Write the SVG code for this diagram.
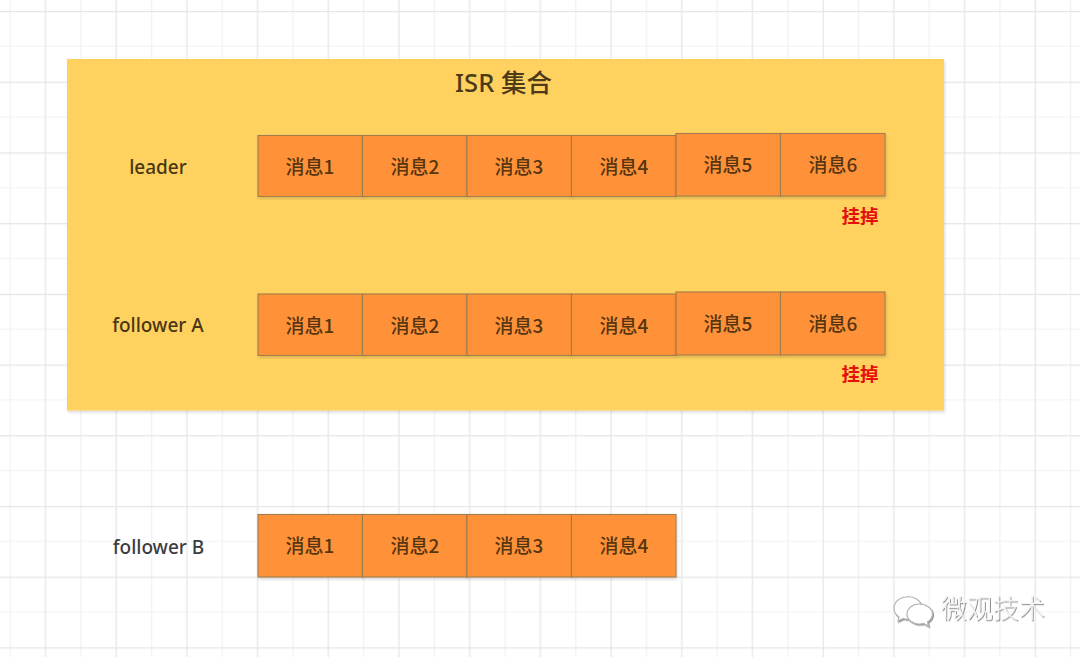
<svg xmlns="http://www.w3.org/2000/svg" width="1080" height="657" viewBox="0 0 1080 657">
<style>
.b{fill:#ff9239;stroke:#a07c4c;stroke-width:1.1}
.m{font-family:"Noto Sans CJK SC","Noto Sans",sans-serif;font-size:19px;font-weight:500;fill:#573510;text-anchor:middle}
.l{font-family:"Noto Sans","Noto Sans CJK SC",sans-serif;font-size:19px;font-weight:500;text-anchor:middle}
.r{font-family:"Noto Sans CJK SC",sans-serif;font-size:18.500px;font-weight:700;fill:#e60f0c;text-anchor:middle}
</style>
<defs>
<pattern id="grid" x="9.5" y="11" width="70.7" height="70.7" patternUnits="userSpaceOnUse">
<path d="M0 35.35H70.700" stroke="#f3f3f5" stroke-width="1.200" fill="none"/>
<path d="M0.700 0V70.700" stroke="#f1f1f4" stroke-width="1.200" fill="none"/>
<path d="M36 0V70.700" stroke="#e5e5ea" stroke-width="1.200" fill="none"/>
<path d="M0 0.700H70.700" stroke="#e5e5ea" stroke-width="1.200" fill="none"/>
</pattern>
<filter id="soft" x="-5%" y="-5%" width="110%" height="110%"><feDropShadow dx="1" dy="2" stdDeviation="1.500" flood-color="#000" flood-opacity="0.14"/></filter>
<filter id="emboss" x="-10%" y="-10%" width="120%" height="120%"><feDropShadow dx="1" dy="1.200" stdDeviation="0.400" flood-color="#777" flood-opacity="0.8"/></filter>
</defs>
<rect width="1080" height="657" fill="#fff"/>
<rect width="1080" height="657" fill="url(#grid)"/>
<g id="isr-set">
<rect x="67" y="59" width="877" height="351.500" fill="#ffd25e" filter="url(#soft)"/>
<text x="503.500" y="92" font-family="Noto Sans,Noto Sans CJK SC,sans-serif" font-size="25.500" font-weight="500" fill="#4d3a18" text-anchor="middle">ISR 集合</text>
</g>
<g id="label-leader"><text class="l" x="158" y="173.500" fill="#4a3614">leader</text></g>
<g id="label-follower-a"><text class="l" x="158" y="332" fill="#4a3614">follower A</text></g>
<g id="label-follower-b"><text class="l" x="158.500" y="554" fill="#3c3c3f">follower B</text></g>
<g id="leader-1"><rect class="b" x="258" y="135.500" width="104.500" height="61" filter="url(#soft)"/><text class="m" x="310" y="173.500">消息1</text></g>
<g id="leader-2"><rect class="b" x="362.500" y="135.500" width="104.500" height="61" filter="url(#soft)"/><text class="m" x="415" y="173.500">消息2</text></g>
<g id="leader-3"><rect class="b" x="467" y="135.500" width="104.500" height="61" filter="url(#soft)"/><text class="m" x="519" y="173.500">消息3</text></g>
<g id="leader-4"><rect class="b" x="571.500" y="135.500" width="104.500" height="61" filter="url(#soft)"/><text class="m" x="624" y="173.500">消息4</text></g>
<g id="leader-5"><rect class="b" x="676" y="133.500" width="104.500" height="62.500" filter="url(#soft)"/><text class="m" x="728" y="171.500">消息5</text></g>
<g id="leader-6"><rect class="b" x="780.500" y="133.500" width="104.500" height="62.500" filter="url(#soft)"/><text class="m" x="833" y="171.500">消息6</text></g>
<g id="leader-down"><text class="r" x="860" y="222.500">挂掉</text></g>
<g id="a-1"><rect class="b" x="258" y="294" width="104.500" height="61.500" filter="url(#soft)"/><text class="m" x="310" y="332.500">消息1</text></g>
<g id="a-2"><rect class="b" x="362.500" y="294" width="104.500" height="61.500" filter="url(#soft)"/><text class="m" x="415" y="332.500">消息2</text></g>
<g id="a-3"><rect class="b" x="467" y="294" width="104.500" height="61.500" filter="url(#soft)"/><text class="m" x="519" y="332.500">消息3</text></g>
<g id="a-4"><rect class="b" x="571.500" y="294" width="104.500" height="61.500" filter="url(#soft)"/><text class="m" x="624" y="332.500">消息4</text></g>
<g id="a-5"><rect class="b" x="676" y="292" width="104.500" height="63" filter="url(#soft)"/><text class="m" x="728" y="330.500">消息5</text></g>
<g id="a-6"><rect class="b" x="780.500" y="292" width="104.500" height="63" filter="url(#soft)"/><text class="m" x="833" y="330.500">消息6</text></g>
<g id="a-down"><text class="r" x="860" y="380.500">挂掉</text></g>
<g id="b-1"><rect class="b" x="258" y="514.500" width="104.500" height="62.500" filter="url(#soft)"/><text class="m" x="310" y="552.500">消息1</text></g>
<g id="b-2"><rect class="b" x="362.500" y="514.500" width="104.500" height="62.500" filter="url(#soft)"/><text class="m" x="415" y="552.500">消息2</text></g>
<g id="b-3"><rect class="b" x="467" y="514.500" width="104.500" height="62.500" filter="url(#soft)"/><text class="m" x="519" y="552.500">消息3</text></g>
<g id="b-4"><rect class="b" x="571.500" y="514.500" width="104.500" height="62.500" filter="url(#soft)"/><text class="m" x="624" y="552.500">消息4</text></g>
<g id="watermark">
<g fill="#fff" stroke="#b5b5b5" stroke-width="1.200" filter="url(#emboss)">
<path d="M907 597c-7 0-13 5-13 11 0 4 2 7 5 9l-1 4 5-2.500c2 .5 4 .7 6 .5-2-7 4-14 12-14.500-1.500-4.500-7-8-14-8z"/>
<path d="M919 604c-6.500 0-12 4.500-12 10s5.500 10 12 10c1.500 0 3-.2 4.500-.6l5 2.600-1-4c3-2 5-5 5-8 0-5.500-6-10-13.500-10z"/>
</g>
<text x="993" y="618" font-family="Noto Sans CJK SC,sans-serif" font-size="26" font-weight="300" fill="#f4f4f4" text-anchor="middle" filter="url(#emboss)">微观技术</text>
</g>
</svg>
